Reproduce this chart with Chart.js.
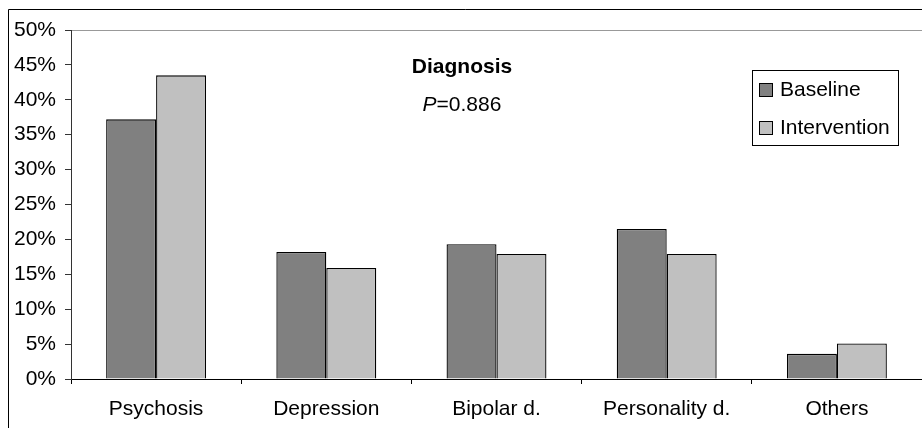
<!DOCTYPE html>
<html>
<head>
<meta charset="utf-8">
<script src="https://cdn.jsdelivr.net/npm/chart.js@4.4.1/dist/chart.umd.min.js"></script>
<style>
  html, body { margin: 0; padding: 0; background: #fff; }
  #wrap { width: 922px; height: 428px; position: relative; }
</style>
</head>
<body>
<div id="wrap"><canvas id="chart" width="922" height="428"></canvas></div>
<script>
'use strict';

const CATEGORIES = ['Psychosis', 'Depression', 'Bipolar d.', 'Personality d.', 'Others'];
const BASELINE = [37.2, 18.2, 19.3, 21.5, 3.6];
const INTERVENTION = [43.5, 15.9, 17.9, 17.9, 5.1];
const Y_TICKS = [0, 5, 10, 15, 20, 25, 30, 35, 40, 45, 50];
const TITLE = 'Diagnosis';
const P_VALUE = '=0.886';

const FONT = '"Liberation Sans", Arial, sans-serif';
const FS = 21;

/* ── frame, title and legend box ── */
const decorPlugin = {
  id: 'decor',
  afterDraw(chart) {
    const ctx = chart.ctx;
    ctx.save();

    // outer border (left + top)
    ctx.strokeStyle = '#000';
    ctx.lineWidth = 1;
    ctx.beginPath();
    ctx.moveTo(8.5, 428);
    ctx.lineTo(8.5, 9.5);
    ctx.lineTo(922, 9.5);
    ctx.stroke();

    // title
    ctx.fillStyle = '#000';
    ctx.textAlign = 'center';
    ctx.textBaseline = 'middle';
    ctx.font = `bold ${FS}px ${FONT}`;
    ctx.fillText(TITLE, 462, 67);

    ctx.font = `italic ${FS}px ${FONT}`;
    const pW = ctx.measureText('P').width;
    ctx.font = `${FS}px ${FONT}`;
    const restW = ctx.measureText(P_VALUE).width;
    const startX = 462 - (pW + restW) / 2;
    ctx.textAlign = 'left';
    ctx.font = `italic ${FS}px ${FONT}`;
    ctx.fillText('P', startX, 105);
    ctx.font = `${FS}px ${FONT}`;
    ctx.fillText(P_VALUE, startX + pW, 105);

    // legend
    ctx.fillStyle = '#fff';
    ctx.fillRect(752.5, 70.5, 146, 75);
    ctx.strokeStyle = '#000';
    ctx.strokeRect(752.5, 70.5, 146, 75);
    const rows = [90, 128];
    chart.data.datasets.forEach((ds, i) => {
      const y = rows[i];
      ctx.fillStyle = ds.backgroundColor;
      ctx.fillRect(759.5, y - 6.5, 13, 13);
      ctx.strokeStyle = '#000';
      ctx.strokeRect(759.5, y - 6.5, 13, 13);
      ctx.fillStyle = '#000';
      ctx.font = `${FS}px ${FONT}`;
      ctx.textAlign = 'left';
      ctx.textBaseline = 'middle';
      ctx.fillText(ds.label, 780, y);
    });

    ctx.restore();
  },
};

new Chart(document.getElementById('chart').getContext('2d'), {
  type: 'bar',
  data: {
    labels: CATEGORIES,
    datasets: [
      {
        label: 'Baseline', data: BASELINE,
        backgroundColor: '#808080', borderColor: '#000', borderWidth: 1.3,
        borderSkipped: 'start',
        categoryPercentage: 0.587, barPercentage: 1,
      },
      {
        label: 'Intervention', data: INTERVENTION,
        backgroundColor: '#c0c0c0', borderColor: '#000', borderWidth: 1.3,
        borderSkipped: 'start',
        categoryPercentage: 0.587, barPercentage: 1,
      },
    ],
  },
  options: {
    responsive: false,
    animation: false,
    devicePixelRatio: 1,
    layout: { padding: { top: 30, right: 0, bottom: 0, left: 0 } },
    plugins: { legend: { display: false }, tooltip: { enabled: false } },
    scales: {
      x: {
        grid: { offset: true, drawOnChartArea: false, color: '#000', tickLength: 5 },
        border: { color: '#000' },
        ticks: { color: '#000', font: { size: FS, family: FONT }, padding: 13, maxRotation: 0 },
        afterFit: s => { s.height = 49; },
      },
      y: {
        min: 0, max: 50,
        afterBuildTicks: s => { s.ticks = Y_TICKS.map(v => ({ value: v })); },
        grid: {
          color: c => (c.tick && c.tick.value === 50 ? '#999' : 'rgba(0,0,0,0)'),
          tickColor: '#333', tickLength: 6,
        },
        border: { color: '#333' },
        ticks: {
          color: '#000', font: { size: FS, family: FONT }, padding: 9,
          callback: v => v + '%',
        },
        afterFit: s => { s.width = 71; },
      },
    },
  },
  plugins: [decorPlugin],
});
</script>
</body>
</html>
